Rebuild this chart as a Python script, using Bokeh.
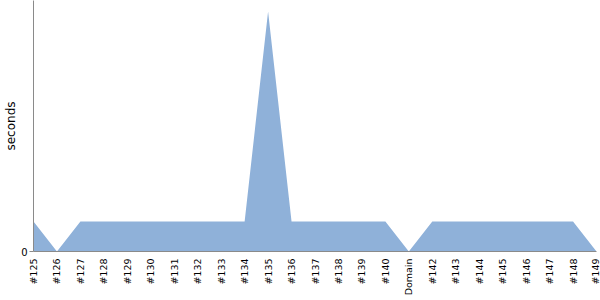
import math
from bokeh.plotting import figure
from bokeh.models import FixedTicker, Range1d
from bokeh.embed import file_html
from bokeh.resources import INLINE

categories = ["#125", "#126", "#127", "#128", "#129", "#130", "#131", "#132", "#133",
              "#134", "#135", "#136", "#137", "#138", "#139", "#140", "Domain", "#142",
              "#143", "#144", "#145", "#146", "#147", "#148", "#149"]
seconds = [1, 0, 1, 1, 1, 1, 1, 1, 1, 1, 8, 1, 1, 1, 1, 1, 0, 1, 1, 1, 1, 1, 1, 1, 0]

xs = list(range(len(categories)))
FONT = "'DejaVu Sans'"

p = figure(width=600, height=300, output_backend="svg", toolbar_location=None,
           x_range=Range1d(0, len(categories) - 1), y_range=Range1d(0, 8.37),
           min_border_left=33, min_border_right=4, min_border_top=0, min_border_bottom=49)
p.outline_line_color = None
p.xgrid.visible = False
p.ygrid.visible = False

p.varea(x=xs, y1=[0] * len(xs), y2=seconds, fill_color="#8FB1D9", fill_alpha=1)

p.xaxis.ticker = FixedTicker(ticks=xs)
p.xaxis.major_label_overrides = {i: c for i, c in enumerate(categories)}
p.xaxis.major_label_orientation = math.pi / 2
p.xaxis.major_tick_line_color = None
p.xaxis.major_tick_out = 0
p.xaxis.major_tick_in = 0
p.xaxis.minor_tick_line_color = None
p.xaxis.minor_tick_out = 0
p.xaxis.axis_line_color = "#8a8a8a"
p.xaxis.major_label_text_font = FONT
p.xaxis.major_label_text_font_size = "9.5px"
p.xaxis.major_label_text_color = "#000000"
p.xaxis.major_label_standoff = 7

p.yaxis.ticker = FixedTicker(ticks=[0])
p.yaxis.axis_line_color = "#8a8a8a"
p.yaxis.major_tick_line_color = "#8a8a8a"
p.yaxis.major_tick_out = 4
p.yaxis.major_tick_in = 0
p.yaxis.minor_tick_line_color = None
p.yaxis.major_label_text_font = FONT
p.yaxis.major_label_text_font_size = "10px"
p.yaxis.major_label_text_color = "#000000"
p.yaxis.major_label_standoff = 2
p.yaxis.axis_label = "seconds"
p.yaxis.axis_label_text_font = FONT
p.yaxis.axis_label_text_font_size = "12px"
p.yaxis.axis_label_text_font_style = "normal"
p.yaxis.axis_label_text_color = "#000000"
p.yaxis.axis_label_standoff = 0

open("out.html", "w").write(file_html(p, INLINE))
